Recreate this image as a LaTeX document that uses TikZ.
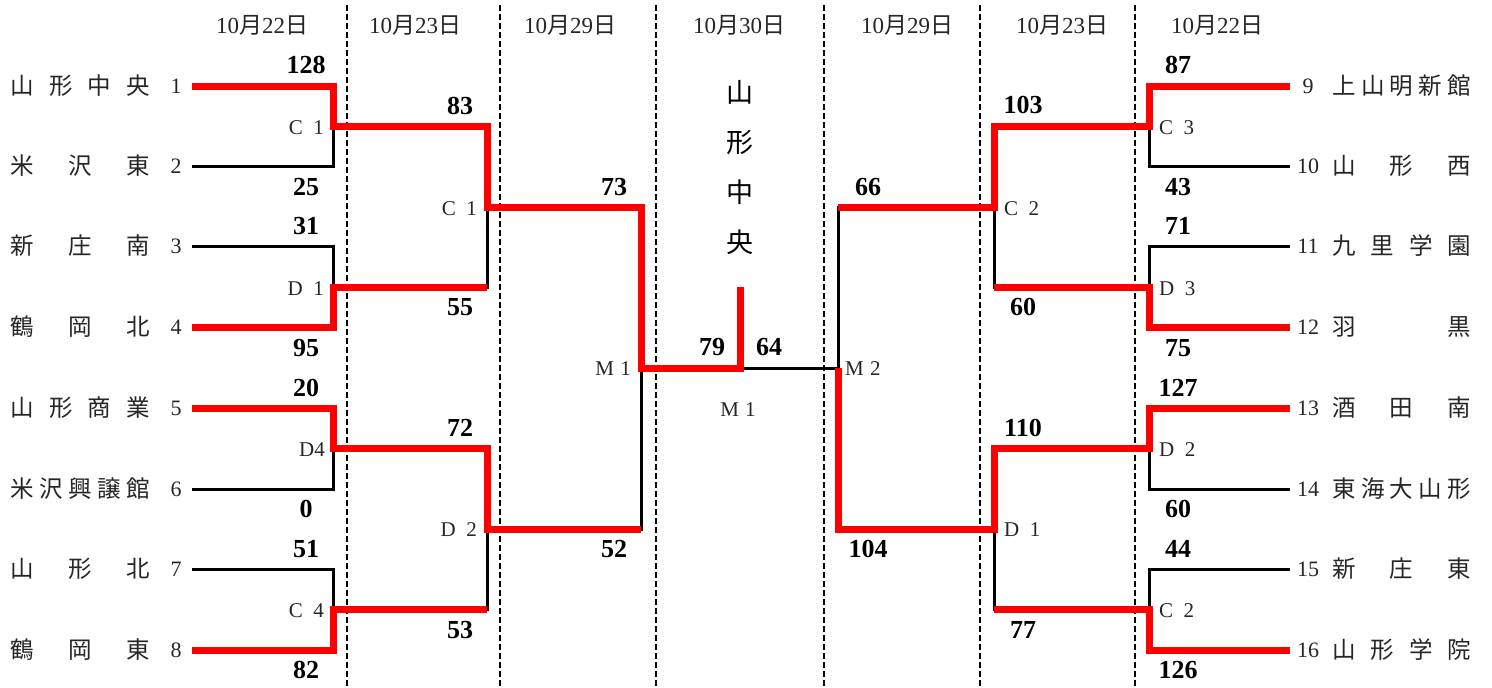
\documentclass[tikz,border=0pt]{standalone}
\usepackage{fontspec}
\setmainfont{Liberation Serif}
\newfontfamily\jp{Noto Sans CJK JP}
\newcommand\hdrtext[1]{10{\jp 月}#1{\jp 日}}
\newcommand\spreadL[1]{\hbox to 139pt{#1}}
\tikzset{
  thinline/.style={line width=3pt, black},
  winline/.style={line width=7pt, red},
  sepline/.style={line width=2pt, black, dash pattern=on 6pt off 3pt},
  team/.style={font=\fontsize{23.5}{23.5}\selectfont\jp, inner sep=0pt, text=black!85, anchor=west},
  num/.style={font=\fontsize{22}{22}\selectfont, inner sep=0pt, text=black!85},
  score/.style={font=\fontsize{26}{26}\selectfont\bfseries, inner sep=0pt},
  lab/.style={font=\fontsize{21}{21}\selectfont, inner sep=0pt, text=black!85},
  hdr/.style={font=\fontsize{23}{23}\selectfont, inner sep=0pt, text=black!85},
  champ/.style={font=\fontsize{27}{50}\selectfont\jp, inner sep=0pt, align=center},
}
\begin{document}
\begin{tikzpicture}[x=1pt,y=-1pt]
\useasboundingbox[fill=white] (0,0) rectangle (1492,688);

% separators
\foreach \i/\x in {1/347,2/500,3/656,4/824,5/980,6/1135}{
  \coordinate (st\i) at (\x,5);
  \coordinate (sb\i) at (\x,688);
  \draw[sepline] (st\i) -- (sb\i);
}

% headers
\node[hdr] (h1) at (262,25) {\hdrtext{22}};
\node[hdr] (h2) at (415,25) {\hdrtext{23}};
\node[hdr] (h3) at (570,25) {\hdrtext{29}};
\node[hdr] (h4) at (739,25) {\hdrtext{30}};
\node[hdr] (h5) at (907,25) {\hdrtext{29}};
\node[hdr] (h6) at (1062,25) {\hdrtext{23}};
\node[hdr] (h7) at (1217,25) {\hdrtext{22}};

% coordinates
\coordinate (L1) at (192,86);  \coordinate (L2) at (192,166);
\coordinate (L3) at (192,246); \coordinate (L4) at (192,327);
\coordinate (L5) at (192,408); \coordinate (L6) at (192,489);
\coordinate (L7) at (192,569); \coordinate (L8) at (192,650);
\coordinate (R9) at (1290,86);   \coordinate (R10) at (1290,166);
\coordinate (R11) at (1290,246); \coordinate (R12) at (1290,327);
\coordinate (R13) at (1290,408); \coordinate (R14) at (1290,489);
\coordinate (R15) at (1290,569); \coordinate (R16) at (1290,650);
\coordinate (A1) at (333,126); \coordinate (A2) at (333,287);
\coordinate (A3) at (333,448); \coordinate (A4) at (333,609);
\coordinate (B1) at (487,207); \coordinate (B2) at (487,529);
\coordinate (M1) at (641,368);
\coordinate (F) at (740,368);  \coordinate (T) at (740,287);
\coordinate (M2) at (838,368);
\coordinate (B3) at (994,207); \coordinate (B4) at (994,529);
\coordinate (A5) at (1149,126); \coordinate (A6) at (1149,287);
\coordinate (A7) at (1149,448); \coordinate (A8) at (1149,609);

% black bracket
\draw[thinline] (L1) -| (A1); \draw[thinline] (L2) -| (A1);
\draw[thinline] (L3) -| (A2); \draw[thinline] (L4) -| (A2);
\draw[thinline] (L5) -| (A3); \draw[thinline] (L6) -| (A3);
\draw[thinline] (L7) -| (A4); \draw[thinline] (L8) -| (A4);
\draw[thinline] (A1) -| (B1); \draw[thinline] (A2) -| (B1);
\draw[thinline] (A3) -| (B2); \draw[thinline] (A4) -| (B2);
\draw[thinline] (B1) -| (M1); \draw[thinline] (B2) -| (M1);
\draw[thinline] (M1) -- (F);
\draw[thinline] (R9) -| (A5);  \draw[thinline] (R10) -| (A5);
\draw[thinline] (R11) -| (A6); \draw[thinline] (R12) -| (A6);
\draw[thinline] (R13) -| (A7); \draw[thinline] (R14) -| (A7);
\draw[thinline] (R15) -| (A8); \draw[thinline] (R16) -| (A8);
\draw[thinline] (A5) -| (B3); \draw[thinline] (A6) -| (B3);
\draw[thinline] (A7) -| (B4); \draw[thinline] (A8) -| (B4);
\draw[thinline] (B3) -| (M2); \draw[thinline] (B4) -| (M2);
\draw[thinline] (M2) -- (F);

% winners
\draw[winline] (L1) -| (A1) -| (B1) -| (M1) -- (F) -- (T);
\draw[winline] (L4) -| (A2) -- (A2 -| B1);
\draw[winline] (L5) -| (A3) -| (B2) -- (B2 -| M1);
\draw[winline] (L8) -| (A4) -- (A4 -| B2);
\draw[winline] (R9) -| (A5) -| (B3) -- (B3 -| M2);
\draw[winline] (R12) -| (A6) -- (A6 -| B3);
\draw[winline] (R13) -| (A7) -| (B4) -| (M2);
\draw[winline] (R16) -| (A8) -- (A8 -| B4);

% champion
\node[champ] (win) at (740,168) {山\\形\\中\\央};

% left teams
\node[team] (t1) at (10.5,86)  {\spreadL{山\hfill 形\hfill 中\hfill 央}};
\node[team] (t2) at (10.5,166) {\spreadL{米\hfill 沢\hfill 東}};
\node[team] (t3) at (10.5,246) {\spreadL{新\hfill 庄\hfill 南}};
\node[team] (t4) at (10.5,327) {\spreadL{鶴\hfill 岡\hfill 北}};
\node[team] (t5) at (10.5,408) {\spreadL{山\hfill 形\hfill 商\hfill 業}};
\node[team] (t6) at (10.5,489) {\spreadL{米\hfill 沢\hfill 興\hfill 譲\hfill 館}};
\node[team] (t7) at (10.5,569) {\spreadL{山\hfill 形\hfill 北}};
\node[team] (t8) at (10.5,650) {\spreadL{鶴\hfill 岡\hfill 東}};
\foreach \n/\y in {1/86,2/166,3/246,4/327,5/408,6/489,7/569,8/650}
  \node[num] (n\n) at (176,\y) {\n};
% right teams
\node[team] (t9)  at (1332,86)  {\spreadL{上\hfill 山\hfill 明\hfill 新\hfill 館}};
\node[team] (t10) at (1332,166) {\spreadL{山\hfill 形\hfill 西}};
\node[team] (t11) at (1332,246) {\spreadL{九\hfill 里\hfill 学\hfill 園}};
\node[team] (t12) at (1332,327) {\spreadL{羽\hfill 黒}};
\node[team] (t13) at (1332,408) {\spreadL{酒\hfill 田\hfill 南}};
\node[team] (t14) at (1332,489) {\spreadL{東\hfill 海\hfill 大\hfill 山\hfill 形}};
\node[team] (t15) at (1332,569) {\spreadL{新\hfill 庄\hfill 東}};
\node[team] (t16) at (1332,650) {\spreadL{山\hfill 形\hfill 学\hfill 院}};
\foreach \n/\y in {9/86,10/166,11/246,12/327,13/408,14/489,15/569,16/650}
  \node[num] (n\n) at (1308,\y) {\n};

% match labels
\node[lab, anchor=east] (c1a) at (324,128) {C\hspace{0.5em}1};
\node[lab, anchor=east] (d1a) at (324,289) {D\hspace{0.5em}1};
\node[lab, anchor=east] (d4a) at (325,450) {D4};
\node[lab, anchor=east] (c4a) at (324,611) {C\hspace{0.5em}4};
\node[lab, anchor=east] (c1b) at (477,209) {C\hspace{0.5em}1};
\node[lab, anchor=east] (d2b) at (477,530) {D\hspace{0.5em}2};
\node[lab, anchor=east] (m1c) at (631,369) {M\hspace{0.3em}1};
\node[lab] (m1f) at (738,410) {M\hspace{0.3em}1};
\node[lab, anchor=west] (m2c) at (845,369) {M\hspace{0.3em}2};
\node[lab, anchor=west] (c2b) at (1004,209) {C\hspace{0.5em}2};
\node[lab, anchor=west] (d1b) at (1004,530) {D\hspace{0.5em}1};
\node[lab, anchor=west] (c3a) at (1159,128) {C\hspace{0.5em}3};
\node[lab, anchor=west] (d3a) at (1159,289) {D\hspace{0.5em}3};
\node[lab, anchor=west] (d2a) at (1159,450) {D\hspace{0.5em}2};
\node[lab, anchor=west] (c2a) at (1159,611) {C\hspace{0.5em}2};

% scores
\node[score] (s1) at (306,65) {128};
\node[score] (s2) at (306,187) {25};
\node[score] (s3) at (306,226) {31};
\node[score] (s4) at (306,348) {95};
\node[score] (s5) at (306,388) {20};
\node[score] (s6) at (306,509) {0};
\node[score] (s7) at (306,549) {51};
\node[score] (s8) at (306,670) {82};
\node[score] (s9) at (460,106) {83};
\node[score] (s10) at (460,307) {55};
\node[score] (s11) at (460,428) {72};
\node[score] (s12) at (460,630) {53};
\node[score] (s13) at (614,187) {73};
\node[score] (s14) at (614,549) {52};
\node[score] (s15) at (712,347) {79};
\node[score] (s16) at (769,347) {64};
\node[score] (s17) at (868,187) {66};
\node[score] (s18) at (868,549) {104};
\node[score] (s19) at (1023,105) {103};
\node[score] (s20) at (1023,307) {60};
\node[score] (s21) at (1023,428) {110};
\node[score] (s22) at (1023,630) {77};
\node[score] (s23) at (1178,65) {87};
\node[score] (s24) at (1178,187) {43};
\node[score] (s25) at (1178,226) {71};
\node[score] (s26) at (1178,348) {75};
\node[score] (s27) at (1178,388) {127};
\node[score] (s28) at (1178,509) {60};
\node[score] (s29) at (1178,549) {44};
\node[score] (s30) at (1178,670) {126};
\end{tikzpicture}
\end{document}
